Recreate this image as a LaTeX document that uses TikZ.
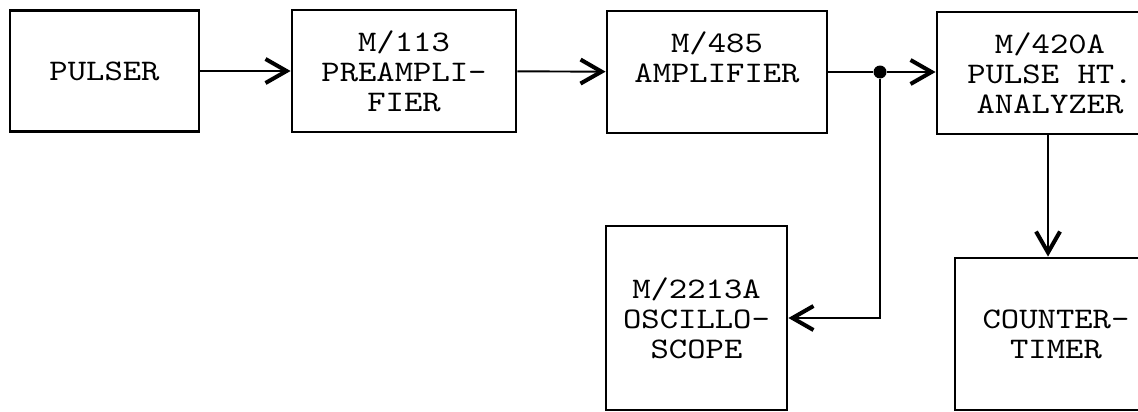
\documentclass[tikz,border=0pt]{standalone}
\usepackage{fontspec}
\setmonofont{lmmono10-regular}[Extension=.otf, FakeStretch=1.17]
\usetikzlibrary{positioning,arrows.meta,calc}

\begin{document}
\begin{tikzpicture}[
    font=\ttfamily\fontsize{17}{17}\selectfont,
    unit/.style={rectangle, draw=black, line width=1.6pt, align=center, inner sep=0pt, minimum width=#1},
    arr/.style={-{Straight Barb[length=4.2mm, width=4.8mm, line width=2.3pt]}, line width=1.1pt},
    line/.style={line width=1.1pt},
    dot/.style={circle, fill=black, inner sep=0pt, minimum size=2.6mm}
]
\useasboundingbox (0,0) rectangle (22.76,8.22);

% Top row: pulse chain
\node[unit=3.78cm, minimum height=2.42cm] (pulser) at (2.09, 6.80) {PULSER};
\node[unit=4.48cm, minimum height=2.44cm] (preamp) at (8.08, 6.80) {M/113\\PREAMPLI-\\FIER};
\node[unit=4.40cm, minimum height=2.44cm] (amp) at (14.34, 6.78) {M/485\\AMPLIFIER\\\mbox{}};
\node[unit=4.52cm, minimum height=2.44cm] (pha) at (21.00, 6.76) {M/420A\\PULSE HT.\\ANALYZER};

% Branch point after the amplifier
\node[dot] (junc) at (17.60, 6.78) {};

% Bottom row: monitoring and counting
\node[unit=3.62cm, minimum height=3.68cm] (osc) at (13.93, 1.86) {M/2213A\\OSCILLO-\\SCOPE};
\node[unit=4.04cm, minimum height=3.04cm] (counter) at (21.12, 1.54) {COUNTER-\\TIMER};

% Signal path
\draw[arr] (pulser) -- (preamp);
\draw[arr] (preamp) -- (amp);
\draw[line] (amp.east) -- (junc);
\draw[arr] (junc) -- (pha.west |- junc);
\draw[arr] (junc) |- (osc.east);
\draw[arr] ($(pha.south)+(-0.04,0)$) -- ($(pha.south |- counter.north)+(-0.04,0)$);

\end{tikzpicture}
\end{document}
